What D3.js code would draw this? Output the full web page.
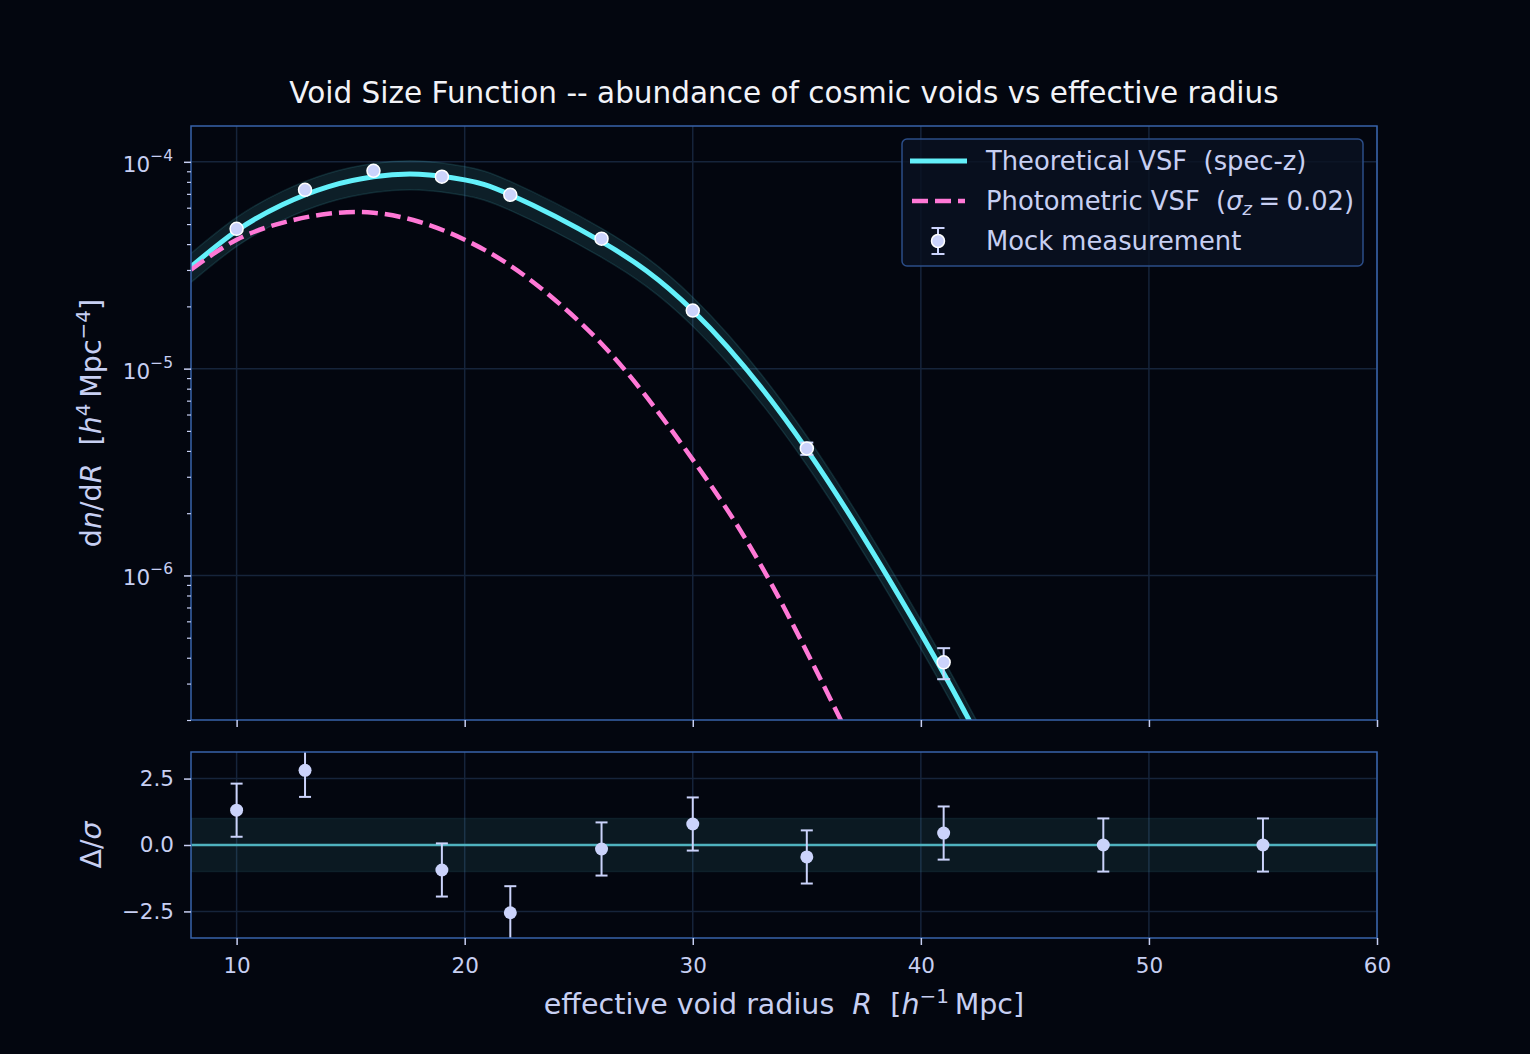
<!DOCTYPE html>
<html>
<head>
<meta charset="utf-8">
<script src="https://cdn.jsdelivr.net/npm/d3@7"></script>
<style>
  html, body { margin: 0; padding: 0; background: #03060f; }
  svg text { font-family: "DejaVu Sans", sans-serif; white-space: pre; }
</style>
</head>
<body>
<svg id="chart"></svg>
<script>
// ---- data ----
const theoryR = [8, 10, 12, 14, 16, 18, 20, 22, 26, 30, 35, 40, 42, 44];
const theoryVSF = [3.11e-5, 4.64e-5, 6.20e-5, 7.57e-5, 8.46e-5, 8.70e-5, 8.18e-5, 6.93e-5, 4.11e-5,
                   1.91e-5, 4.06e-6, 5.25e-7, 2.11e-7, 8.28e-8];
const photoR = [8, 10, 12, 14, 16, 18, 20, 22, 24, 26, 28, 30, 32, 34, 36, 38];
const photoVSF = [3.01e-5, 4.20e-5, 5.07e-5, 5.61e-5, 5.67e-5, 5.13e-5, 4.20e-5, 3.15e-5, 2.13e-5,
                  1.32e-5, 7.24e-6, 3.63e-6, 1.71e-6, 7.00e-7, 2.57e-7, 9.25e-8];
const mockR = [10, 13, 16, 19, 22, 26, 30, 35, 41, 48, 55];
const mockVSF = [4.74e-5, 7.32e-5, 9.05e-5, 8.47e-5, 6.93e-5, 4.25e-5, 1.91e-5, 4.11e-6, 3.80e-7, 3.0e-9, 2.0e-11];
const mockErr = [1.0e-6, 1.2e-6, 1.5e-6, 1.4e-6, 1.2e-6, 8.0e-7, 4.0e-7, 2.8e-7, 6.5e-8, 1.0e-9, 1.0e-11];
const residual = [1.31, 2.81, 5.2, -0.94, -2.55, -0.15, 0.79, -0.45, 0.45, 0.0, 0.0];
const residualErr = [1, 1, 1, 1, 1, 1, 1, 1, 1, 1, 1];
const BAND_FRAC = 0.16;   // relative width of the shaded theory band
const xTicks = [10, 20, 30, 40, 50, 60];
const yDecades = [1e-4, 1e-5, 1e-6];
const decadeExp = ["\u22124", "\u22125", "\u22126"];
const resTicks = [2.5, 0, -2.5];
const resTickLabels = ["2.5", "0.0", "\u22122.5"];

// ---- look ----
const SIZE = { width: 1530, height: 1054 };
const MAIN = { left: 191, right: 1377, top: 126, bottom: 720 };
const RES = { top: 752, bottom: 938 };
const COL = {
  bg: "#03060f",
  spine: "#3863ab",
  grid: "#16243b",
  text: "#c7cff2",
  title: "#f2f3f8",
  cyan: "#63f0fa",
  pink: "#ff78d6",
  marker: "#cbd3fb",
  zero: "#4fb2bf",
};

const svg = d3.select("svg#chart").attr("width", SIZE.width).attr("height", SIZE.height);
svg.append("rect").attr("width", SIZE.width).attr("height", SIZE.height).attr("fill", COL.bg);

const x = d3.scaleLinear().domain([8, 60]).range([MAIN.left, MAIN.right]);
const y = d3.scaleLog().domain([2.0e-7, 1.49e-4]).range([MAIN.bottom, MAIN.top]);
const yr = d3.scaleLinear().domain([-3.5, 3.5]).range([RES.bottom, RES.top]);

const defs = svg.append("defs");
defs.append("clipPath").attr("id", "clipMain").append("rect")
  .attr("x", MAIN.left).attr("y", MAIN.top)
  .attr("width", MAIN.right - MAIN.left).attr("height", MAIN.bottom - MAIN.top);
defs.append("clipPath").attr("id", "clipRes").append("rect")
  .attr("x", MAIN.left).attr("y", RES.top)
  .attr("width", MAIN.right - MAIN.left).attr("height", RES.bottom - RES.top);

// ---- grids ----
const grid = svg.append("g").attr("stroke", COL.grid).attr("stroke-width", 1.5);
xTicks.forEach(t => {
  grid.append("line").attr("x1", x(t)).attr("x2", x(t)).attr("y1", MAIN.top).attr("y2", MAIN.bottom);
  grid.append("line").attr("x1", x(t)).attr("x2", x(t)).attr("y1", RES.top).attr("y2", RES.bottom);
});
yDecades.forEach(t => {
  grid.append("line").attr("x1", MAIN.left).attr("x2", MAIN.right).attr("y1", y(t)).attr("y2", y(t));
});
resTicks.forEach(t => {
  grid.append("line").attr("x1", MAIN.left).attr("x2", MAIN.right).attr("y1", yr(t)).attr("y2", yr(t));
});

// ---- main panel ----
const main = svg.append("g").attr("clip-path", "url(#clipMain)");
const theory = theoryR.map((r, i) => ({ r: r, v: theoryVSF[i] }));
const photo = photoR.map((r, i) => ({ r: r, v: photoVSF[i] }));
const curve = d3.curveNatural;

main.append("path")
  .attr("d", d3.area().x(d => x(d.r)).y0(d => y(d.v * (1 - BAND_FRAC))).y1(d => y(d.v * (1 + BAND_FRAC))).curve(curve)(theory))
  .attr("fill", COL.cyan).attr("fill-opacity", 0.11);
[1 - BAND_FRAC, 1 + BAND_FRAC].forEach(f => {
  main.append("path")
    .attr("d", d3.line().x(d => x(d.r)).y(d => y(d.v * f)).curve(curve)(theory))
    .attr("fill", "none").attr("stroke", COL.cyan).attr("stroke-opacity", 0.12).attr("stroke-width", 1.5);
});
main.append("path")
  .attr("d", d3.line().x(d => x(d.r)).y(d => y(d.v)).curve(curve)(theory))
  .attr("fill", "none").attr("stroke", COL.cyan).attr("stroke-width", 5);
main.append("path")
  .attr("d", d3.line().x(d => x(d.r)).y(d => y(d.v)).curve(curve)(photo))
  .attr("fill", "none").attr("stroke", COL.pink).attr("stroke-width", 4.5).attr("stroke-dasharray", "16,7");

const mock = mockR.map((r, i) => ({ r: r, v: mockVSF[i], e: mockErr[i], res: residual[i], re: residualErr[i] }));
const eb = main.append("g").attr("stroke", COL.marker).attr("stroke-width", 2);
mock.forEach(d => {
  eb.append("line").attr("x1", x(d.r)).attr("x2", x(d.r)).attr("y1", y(d.v + d.e)).attr("y2", y(Math.max(d.v - d.e, 1e-12)));
  [d.v + d.e, Math.max(d.v - d.e, 1e-12)].forEach(c => {
    eb.append("line").attr("x1", x(d.r) - 6.5).attr("x2", x(d.r) + 6.5).attr("y1", y(c)).attr("y2", y(c));
  });
});
main.selectAll(".mock-pt").data(mock).enter().append("circle")
  .attr("class", "mock-pt")
  .attr("cx", d => x(d.r)).attr("cy", d => y(d.v)).attr("r", 6.5)
  .attr("fill", COL.marker).attr("stroke", "#ffffff").attr("stroke-width", 1.5);

// ---- residual panel ----
const res = svg.append("g").attr("clip-path", "url(#clipRes)");
res.append("rect")
  .attr("x", MAIN.left).attr("width", MAIN.right - MAIN.left)
  .attr("y", yr(1)).attr("height", yr(-1) - yr(1))
  .attr("fill", COL.zero).attr("fill-opacity", 0.11)
  .attr("stroke", COL.zero).attr("stroke-opacity", 0.1).attr("stroke-width", 1.5);
res.append("line").attr("x1", MAIN.left).attr("x2", MAIN.right).attr("y1", yr(0)).attr("y2", yr(0))
  .attr("stroke", COL.zero).attr("stroke-width", 2.5);
const reb = res.append("g").attr("stroke", COL.marker).attr("stroke-width", 2);
mock.forEach(d => {
  reb.append("line").attr("x1", x(d.r)).attr("x2", x(d.r)).attr("y1", yr(d.res + d.re)).attr("y2", yr(d.res - d.re));
  [d.res + d.re, d.res - d.re].forEach(c => {
    reb.append("line").attr("x1", x(d.r) - 6).attr("x2", x(d.r) + 6).attr("y1", yr(c)).attr("y2", yr(c));
  });
});
res.selectAll(".res-pt").data(mock).enter().append("circle")
  .attr("class", "res-pt")
  .attr("cx", d => x(d.r)).attr("cy", d => yr(d.res)).attr("r", 6.5)
  .attr("fill", COL.marker);

// ---- spines ----
[[MAIN.top, MAIN.bottom], [RES.top, RES.bottom]].forEach(([t, b]) => {
  svg.append("rect").attr("x", MAIN.left).attr("y", t)
    .attr("width", MAIN.right - MAIN.left).attr("height", b - t)
    .attr("fill", "none").attr("stroke", COL.spine).attr("stroke-width", 1.5);
});

// ---- axes ----
function styleAxis(g) {
  g.select(".domain").remove();
  g.selectAll(".tick line").attr("stroke", COL.text).attr("stroke-width", 1.5);
  g.selectAll(".tick text").attr("fill", COL.text).attr("font-size", 21.5).attr("font-family", "DejaVu Sans");
}
svg.append("g").attr("transform", `translate(0,${MAIN.bottom})`)
  .call(d3.axisBottom(x).tickValues(xTicks).tickSize(7).tickFormat(""))
  .call(styleAxis);
svg.append("g").attr("transform", `translate(0,${RES.bottom})`)
  .call(d3.axisBottom(x).tickValues(xTicks).tickSize(7).tickPadding(13).tickFormat(d3.format("d")))
  .call(styleAxis);
svg.append("g").attr("transform", `translate(${MAIN.left},0)`)
  .call(d3.axisLeft(yr).tickValues(resTicks).tickSize(7).tickPadding(10).tickFormat((_, i) => resTickLabels[i]))
  .call(styleAxis);

// log axis: minor then major ticks
const minorTicks = y.ticks().filter(t => !yDecades.some(m => Math.abs(m - t) / m < 1e-6));
svg.append("g").attr("transform", `translate(${MAIN.left},0)`)
  .call(d3.axisLeft(y).tickValues(minorTicks).tickSize(4).tickFormat(""))
  .call(styleAxis)
  .selectAll(".tick line").attr("stroke-width", 1.2);
svg.append("g").attr("transform", `translate(${MAIN.left},0)`)
  .call(d3.axisLeft(y).tickValues(yDecades).tickSize(7).tickFormat(""))
  .call(styleAxis);
yDecades.forEach((t, i) => {
  const lab = svg.append("text").attr("x", 173).attr("y", y(t) + 10)
    .attr("text-anchor", "end").attr("fill", COL.text).attr("font-size", 21.5);
  lab.append("tspan").text("10");
  lab.append("tspan").attr("dy", -11).attr("font-size", 15.5).text(decadeExp[i]);
});

// ---- labels ----
svg.append("text").attr("x", (MAIN.left + MAIN.right) / 2).attr("y", 103)
  .attr("text-anchor", "middle").attr("fill", COL.title).attr("font-size", 29.5)
  .text("Void Size Function -- abundance of cosmic voids vs effective radius");

const xl = svg.append("text").attr("x", (MAIN.left + MAIN.right) / 2).attr("y", 1014)
  .attr("text-anchor", "middle").attr("fill", COL.text).attr("font-size", 28.5);
xl.append("tspan").text("effective void radius  ");
xl.append("tspan").attr("font-style", "italic").text("R");
xl.append("tspan").text("  [");
xl.append("tspan").attr("font-style", "italic").text("h");
xl.append("tspan").attr("dy", -11).attr("font-size", 20).text("\u22121");
xl.append("tspan").attr("dy", 11).text("\u2009Mpc]");

const yl = svg.append("text").attr("transform", `translate(101,${(MAIN.top + MAIN.bottom) / 2}) rotate(-90)`)
  .attr("text-anchor", "middle").attr("fill", COL.text).attr("font-size", 28.5);
yl.append("tspan").text("d");
yl.append("tspan").attr("font-style", "italic").text("n");
yl.append("tspan").text("/d");
yl.append("tspan").attr("font-style", "italic").text("R");
yl.append("tspan").text("  [");
yl.append("tspan").attr("font-style", "italic").text("h");
yl.append("tspan").attr("dy", -11).attr("font-size", 20).text("4");
yl.append("tspan").attr("dy", 11).text("\u2009Mpc");
yl.append("tspan").attr("dy", -11).attr("font-size", 20).text("\u22124");
yl.append("tspan").attr("dy", 11).text("]");

const rl = svg.append("text").attr("transform", `translate(101,${(RES.top + RES.bottom) / 2}) rotate(-90)`)
  .attr("text-anchor", "middle").attr("fill", COL.text).attr("font-size", 28.5);
rl.append("tspan").text("\u0394/");
rl.append("tspan").attr("font-style", "italic").text("\u03c3");

// ---- legend ----
const lg = svg.append("g");
lg.append("rect").attr("x", 902).attr("y", 139).attr("width", 461).attr("height", 127).attr("rx", 5)
  .attr("fill", "#0a1122").attr("fill-opacity", 0.8).attr("stroke", "#2b4d88").attr("stroke-width", 1.5);
lg.append("line").attr("x1", 910).attr("x2", 967).attr("y1", 161).attr("y2", 161)
  .attr("stroke", COL.cyan).attr("stroke-width", 5);
lg.append("line").attr("x1", 912).attr("x2", 965).attr("y1", 201).attr("y2", 201)
  .attr("stroke", COL.pink).attr("stroke-width", 4.5).attr("stroke-dasharray", "16,7");
lg.append("line").attr("x1", 938).attr("x2", 938).attr("y1", 228).attr("y2", 254).attr("stroke", COL.marker).attr("stroke-width", 2);
[228, 254].forEach(c => lg.append("line").attr("x1", 931.5).attr("x2", 944.5).attr("y1", c).attr("y2", c)
  .attr("stroke", COL.marker).attr("stroke-width", 2));
lg.append("circle").attr("cx", 938).attr("cy", 241).attr("r", 6.5)
  .attr("fill", COL.marker).attr("stroke", "#ffffff").attr("stroke-width", 1.5);

const legText = (yy) => lg.append("text").attr("x", 986).attr("y", yy).attr("fill", COL.text).attr("font-size", 25.8);
legText(170).text("Theoretical VSF  (spec-z)");
const l2 = legText(210);
l2.append("tspan").text("Photometric VSF  (");
l2.append("tspan").attr("font-style", "italic").text("\u03c3");
l2.append("tspan").attr("font-style", "italic").attr("font-size", 18).attr("dy", 5).text("z");
l2.append("tspan").attr("dy", -5).text("\u2005=\u20050.02)");
legText(250).text("Mock measurement");
</script>
</body>
</html>
